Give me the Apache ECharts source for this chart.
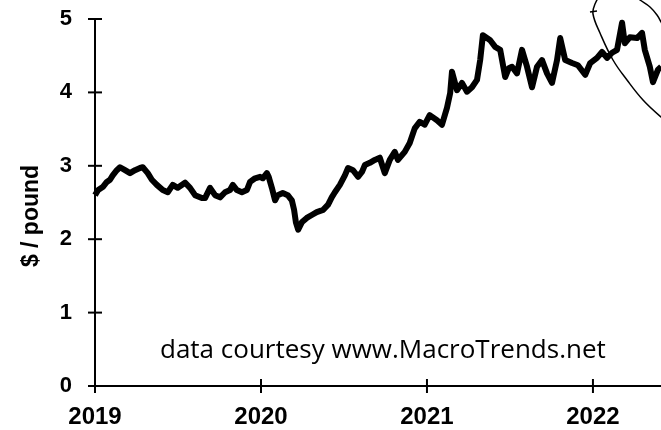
<!DOCTYPE html>
<html>
<head>
<meta charset="utf-8">
<script src="https://cdn.jsdelivr.net/npm/echarts@6/dist/echarts.min.js"></script>
<style>
  html, body { margin: 0; padding: 0; background: #fff; }
  #chart { width: 661px; height: 430px; }
</style>
</head>
<body>
<div id="chart"></div>
<script>
// 铜价数据（美元/磅），从图上读出的近似值
var dates = [
    '2019-01-01', '2019-01-08', '2019-01-18', '2019-01-27', '2019-02-03', '2019-02-09',
    '2019-02-18', '2019-02-25', '2019-03-08', '2019-03-19', '2019-03-30', '2019-04-10',
    '2019-04-16', '2019-04-27', '2019-05-06', '2019-05-17', '2019-05-30', '2019-06-10',
    '2019-06-21', '2019-07-02', '2019-07-18', '2019-07-29', '2019-08-09', '2019-08-24',
    '2019-08-31', '2019-09-11', '2019-09-22', '2019-10-03', '2019-10-14', '2019-10-25',
    '2019-10-31', '2019-11-09', '2019-11-20', '2019-12-01', '2019-12-08', '2019-12-19',
    '2019-12-30',
    '2020-01-05', '2020-01-14', '2020-01-18', '2020-01-25', '2020-02-01', '2020-02-07',
    '2020-02-18', '2020-02-29', '2020-03-09', '2020-03-14', '2020-03-18', '2020-03-23',
    '2020-03-31', '2020-04-11', '2020-04-22', '2020-05-03', '2020-05-17', '2020-05-28',
    '2020-06-05', '2020-06-12', '2020-06-23', '2020-07-04', '2020-07-11', '2020-07-22',
    '2020-08-02', '2020-08-11', '2020-08-17', '2020-08-28', '2020-09-08', '2020-09-19',
    '2020-09-30', '2020-10-11', '2020-10-22', '2020-10-29', '2020-11-13', '2020-11-24',
    '2020-12-05', '2020-12-16', '2020-12-27',
    '2021-01-07', '2021-01-23', '2021-02-03', '2021-02-14', '2021-02-21', '2021-02-25',
    '2021-03-08', '2021-03-19', '2021-03-30', '2021-04-10', '2021-04-21', '2021-04-28',
    '2021-05-04', '2021-05-20', '2021-05-31', '2021-06-11', '2021-06-22', '2021-06-30',
    '2021-07-07', '2021-07-18', '2021-07-29', '2021-08-09', '2021-08-20', '2021-08-31',
    '2021-09-11', '2021-09-22', '2021-10-03', '2021-10-14', '2021-10-21', '2021-11-01',
    '2021-11-16', '2021-11-29', '2021-12-15', '2021-12-26',
    '2022-01-10', '2022-01-21', '2022-02-01', '2022-02-12', '2022-02-23', '2022-03-06',
    '2022-03-12', '2022-03-23', '2022-04-08', '2022-04-19', '2022-04-25', '2022-05-06',
    '2022-05-13', '2022-05-24', '2022-05-31'
];
var prices = [
    2.60, 2.67, 2.71, 2.78, 2.81, 2.87,
    2.94, 2.98, 2.94, 2.90, 2.94, 2.97,
    2.98, 2.90, 2.81, 2.74, 2.67, 2.64,
    2.74, 2.70, 2.77, 2.70, 2.60, 2.56,
    2.56, 2.70, 2.60, 2.57, 2.64, 2.67,
    2.74, 2.67, 2.64, 2.67, 2.78, 2.83,
    2.85,
    2.83, 2.90, 2.85, 2.70, 2.53, 2.60,
    2.63, 2.60, 2.53, 2.40, 2.23, 2.13,
    2.23, 2.29, 2.33, 2.37, 2.40, 2.47,
    2.57, 2.64, 2.74, 2.87, 2.97, 2.94,
    2.85, 2.92, 3.01, 3.04, 3.08, 3.11,
    2.90, 3.08, 3.19, 3.08, 3.19, 3.31,
    3.51, 3.60, 3.56,
    3.69, 3.62, 3.56, 3.79, 3.99, 4.28,
    4.03, 4.13, 4.01, 4.07, 4.17, 4.44,
    4.78, 4.71, 4.62, 4.58, 4.21, 4.33,
    4.35, 4.26, 4.58, 4.35, 4.07, 4.35,
    4.44, 4.26, 4.13, 4.44, 4.74, 4.44,
    4.40, 4.37, 4.24, 4.40,
    4.47, 4.55, 4.47, 4.54, 4.58, 4.95,
    4.67, 4.75, 4.74, 4.81, 4.58, 4.35,
    4.14, 4.31, 4.35
];
var yearTicks = [2019, 2020, 2021, 2022];
var yTicks = [0, 1, 2, 3, 4, 5];

// 日期转成小数年份
function toYear(s) {
    var p = s.split('-');
    var y = parseInt(p[0]);
    var start = Date.UTC(y, 0, 1);
    var end = Date.UTC(y + 1, 0, 1);
    var t = Date.UTC(y, parseInt(p[1]) - 1, parseInt(p[2]));
    return y + (t - start) / (end - start);
}

var lineData = [];
dates.forEach(function (d, i) {
    lineData.push([toYear(d), prices[i]]);
});

var myChart = echarts.init(document.getElementById('chart'));

var labelFont = 'Liberation Sans, Arial, sans-serif';
var xMin = yearTicks[0];
var xMax = 2022.41;
var axisStyle = { color: '#000', width: 2 };
var tickHalf = 7;

// 穿过轴线的刻度，用 custom 系列按坐标轴的比例画
function crossTick(horizontal) {
    return function (params, api) {
        var p = api.coord([api.value(0), api.value(1)]);
        var shape = horizontal
            ? { x1: p[0] - tickHalf, y1: p[1], x2: p[0] + tickHalf, y2: p[1] }
            : { x1: p[0], y1: p[1] - tickHalf, x2: p[0], y2: p[1] + tickHalf };
        return { type: 'line', shape: shape, style: { stroke: '#000', lineWidth: 2 } };
    };
}

var option = {
    animation: false,
    backgroundColor: '#fff',
    grid: { left: 95, right: 0, top: 19, bottom: 44 },
    xAxis: {
        type: 'value',
        min: xMin,
        max: xMax,
        interval: 1,
        splitLine: { show: false },
        axisLine: { show: true, onZero: false, lineStyle: axisStyle },
        axisTick: { show: false },
        axisLabel: {
            color: '#000', fontSize: 24, fontWeight: 'bold', fontFamily: labelFont, margin: 19,
            showMaxLabel: false,
            formatter: function (v) { return yearTicks.indexOf(v) >= 0 ? String(v) : ''; }
        }
    },
    yAxis: {
        type: 'value',
        min: yTicks[0],
        max: yTicks[yTicks.length - 1],
        interval: 1,
        splitLine: { show: false },
        axisLine: { show: true, onZero: false, lineStyle: axisStyle },
        axisTick: { show: false },
        axisLabel: { color: '#000', fontSize: 22, fontWeight: 'bold', fontFamily: labelFont, margin: 23 }
    },
    series: [{
        type: 'line',
        data: lineData,
        showSymbol: false,
        lineStyle: { color: '#000', width: 6, join: 'round' }
    }, {
        type: 'custom',
        clip: false,
        silent: true,
        data: yTicks.map(function (v) { return [xMin, v]; }),
        renderItem: crossTick(true)
    }, {
        type: 'custom',
        clip: false,
        silent: true,
        data: yearTicks.map(function (v) { return [v, yTicks[0]]; }),
        renderItem: crossTick(false)
    }],
    graphic: [{
        type: 'text',
        x: 32,
        y: 216,
        rotation: Math.PI / 2,
        style: {
            text: '$ / pound',
            fill: '#000',
            font: 'bold 23px Liberation Sans, Arial, sans-serif',
            align: 'center',
            verticalAlign: 'middle'
        }
    }, {
        type: 'text',
        x: 160,
        y: 351,
        style: {
            text: 'data courtesy www.MacroTrends.net',
            fill: '#000',
            font: '26px Open Sans, sans-serif',
            align: 'left',
            verticalAlign: 'middle'
        }
    }, {
        // 手画的椭圆（左侧）
        type: 'polyline',
        shape: {
            points: [[602, -8], [595, 4], [593, 14], [600, 33], [613, 60], [627, 80], [643, 100], [661, 117], [672, 125]],
            smooth: 0.4
        },
        style: { stroke: '#000', lineWidth: 1.5, fill: null }
    }, {
        // 椭圆右侧
        type: 'polyline',
        shape: {
            points: [[630, -8], [640, 0], [650, 7], [657, 15], [661, 22], [666, 32]],
            smooth: 0.4
        },
        style: { stroke: '#000', lineWidth: 1.5, fill: null }
    }, {
        type: 'line',
        shape: { x1: 590, y1: 12, x2: 597, y2: 11 },
        style: { stroke: '#000', lineWidth: 1.5 }
    }]
};

myChart.setOption(option);
</script>
</body>
</html>
